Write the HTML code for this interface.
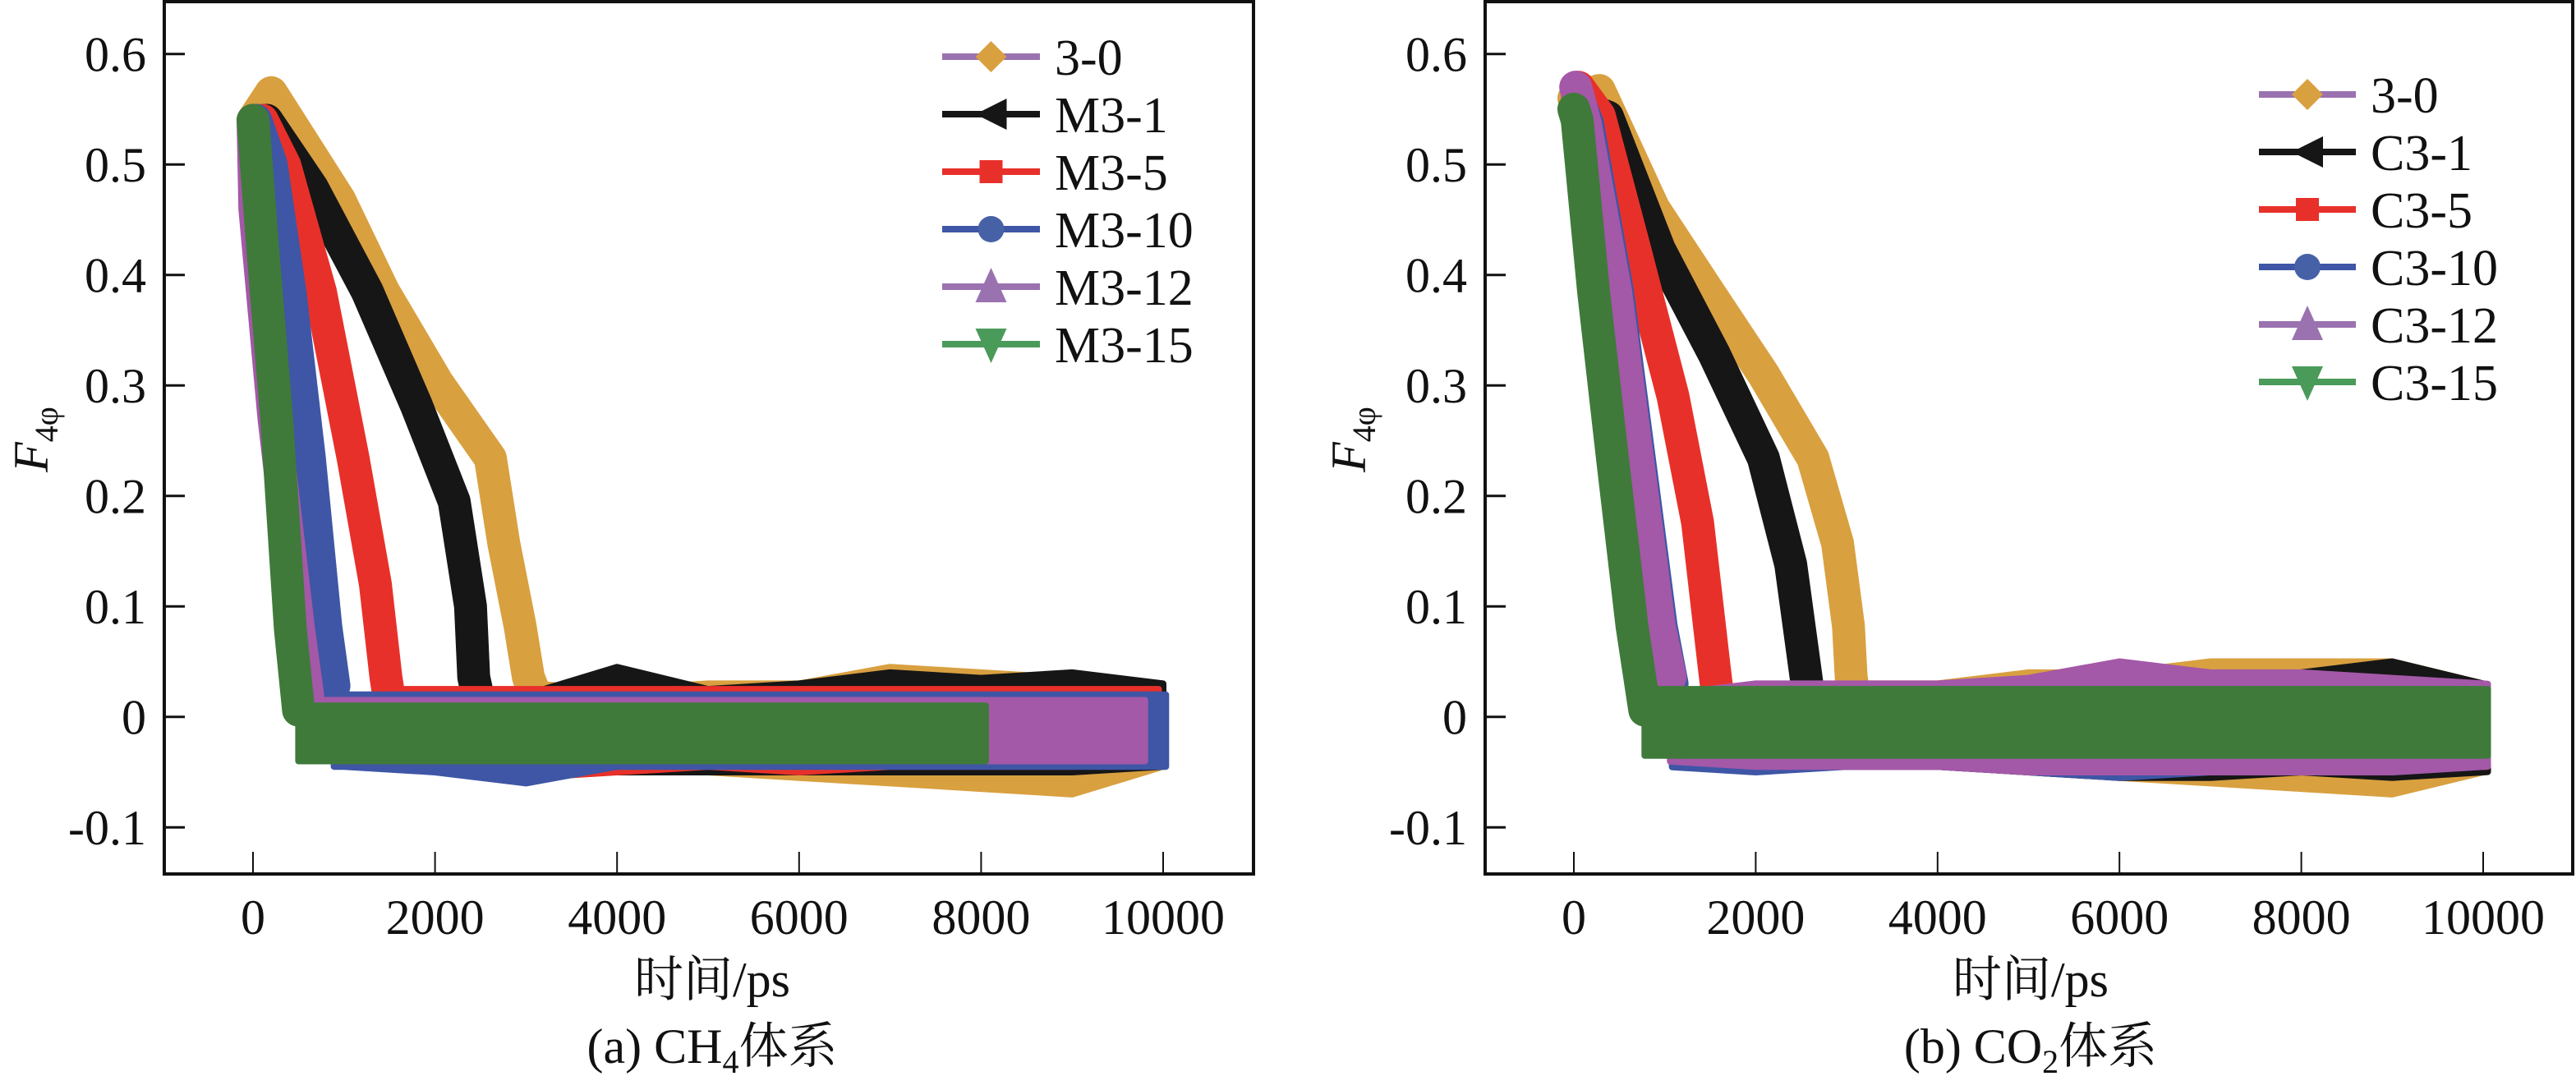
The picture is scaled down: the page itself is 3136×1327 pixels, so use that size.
<!DOCTYPE html>
<html><head><meta charset="utf-8">
<style>
html,body{margin:0;padding:0;background:#fff;}
svg{display:block;font-family:"Liberation Serif","Noto Serif CJK SC",serif;}
svg text{font-family:"Liberation Serif","Noto Serif CJK SC",serif !important;fill:#111;}
</style></head>
<body>
<svg id="chart" width="3136" height="1327" viewBox="0 0 3136 1327" xmlns="http://www.w3.org/2000/svg" font-family="Liberation Serif, Noto Serif CJK SC, serif"></svg>
<script>
// ---------- shared ticks ----------
const xTicks=[0,2000,4000,6000,8000,10000];
const yTicks=[0.6,0.5,0.4,0.3,0.2,0.1,0,-0.1];
const yTickLabels=["0.6","0.5","0.4","0.3","0.2","0.1","0","-0.1"];
const gridT=[0,1000,2000,3000,4000,5000,6000,7000,8000,9000,10000];

// ---------- panel A (CH4) ----------
const aNames=["3-0","M3-1","M3-5","M3-10","M3-12","M3-15"];
const aO_T=[0,200,950,1435,2030,2608,2755,2935,3025,3100];
const aO_Y=[0.54,0.565,0.468,0.385,0.302,0.234,0.157,0.082,0.036,0.02];
const aK_T=[150,650,1255,1795,2210,2390,2425,2480];
const aK_Y=[0.54,0.479,0.385,0.282,0.195,0.10,0.036,0.015];
const aR_T=[100,350,740,1100,1345,1460,1490];
const aR_Y=[0.54,0.499,0.385,0.234,0.12,0.036,0.02];
const aB_T=[30,200,406,620,800,890];
const aB_Y=[0.54,0.50,0.385,0.234,0.082,0.028];
const aP_T=[0,20,230,500,600];
const aP_Y=[0.54,0.46,0.27,0.08,0.02];
const aG_T=[0,110,260,410,500];
const aG_Y=[0.54,0.42,0.27,0.08,0.006];
const aO_Hi=[.03,.03,.03,.03,.025,.03,.03,.045,.04,.035,.02];
const aO_Lo=[-.03,-.03,-.03,-.035,-.045,-.05,-.055,-.06,-.065,-.07,-.045];
const aK_Hi=[.02,.02,.02,.02,.045,.025,.03,.04,.035,.04,.03];
const aK_Lo=[-.03,-.03,-.03,-.035,-.05,-.05,-.05,-.05,-.05,-.05,-.045];
const aR_Hi=[.025,.025,.025,.025,.025,.025,.025,.025,.025,.025,.025];
const aR_Lo=[-.04,-.04,-.045,-.055,-.05,-.045,-.05,-.045,-.045,-.045,-.04];
const aB_Hi=[.02,.02,.02,.02,.02,.02,.02,.02,.02,.02,.02];
const aB_Lo=[-.045,-.045,-.05,-.06,-.045,-.045,-.045,-.045,-.045,-.045,-.045];
const aP_Hi=[.015,.015,.015,.015,.015,.015,.015,.015,.015,.015,.015];
const aP_Lo=[-.04,-.04,-.04,-.04,-.04,-.04,-.04,-.04,-.04,-.04,-.04];
const aG_Hi=[.01,.01,.01,.01,.01,.01,.01,.01,.01,.01,.01];
const aG_Lo=[-.04,-.04,-.04,-.04,-.04,-.04,-.04,-.04,-.04,-.04,-.04];
const aEnd=[9950,10000,9950,10030,9800,8050];

// ---------- panel B (CO2) ----------
const bNames=["3-0","C3-1","C3-5","C3-10","C3-12","C3-15"];
const bO_T=[0,280,880,1480,2085,2630,2900,3020,3050,3080];
const bO_Y=[0.56,0.567,0.46,0.385,0.31,0.234,0.157,0.082,0.036,0.02];
const bK_T=[150,370,940,1545,2085,2385,2540,2580];
const bK_Y=[0.55,0.543,0.423,0.328,0.234,0.138,0.044,0.02];
const bR_T=[50,280,670,1090,1360,1545,1580];
const bR_Y=[0.57,0.544,0.423,0.29,0.176,0.044,0.02];
const bB_T=[40,150,480,720,960,1080];
const bB_Y=[0.56,0.537,0.385,0.234,0.082,0.03];
const bP_T=[20,126,460,700,940,1060];
const bP_Y=[0.57,0.537,0.385,0.234,0.082,0.036];
const bG_T=[0,36,217,425,640,780];
const bG_Y=[0.55,0.54,0.385,0.234,0.082,0.006];
const bO_Hi=[.03,.03,.03,.03,.03,.04,.04,.05,.05,.05,.03];
const bO_Lo=[-.035,-.035,-.035,-.035,-.045,-.05,-.055,-.06,-.065,-.07,-.05];
const bK_Hi=[.02,.02,.02,.02,.02,.03,.035,.035,.04,.05,.03];
const bK_Lo=[-.03,-.03,-.04,-.04,-.045,-.05,-.055,-.055,-.05,-.055,-.05];
const bR_Hi=[.025,.025,.025,.025,.025,.025,.025,.025,.025,.025,.025];
const bR_Lo=[-.045,-.045,-.045,-.045,-.045,-.045,-.045,-.045,-.045,-.045,-.045];
const bB_Hi=[.02,.02,.02,.02,.02,.02,.02,.02,.02,.02,.02];
const bB_Lo=[-.045,-.045,-.05,-.045,-.045,-.05,-.055,-.05,-.05,-.05,-.045];
const bP_Hi=[.02,.02,.03,.03,.03,.035,.05,.04,.04,.035,.03];
const bP_Lo=[-.04,-.04,-.045,-.045,-.045,-.05,-.05,-.05,-.05,-.05,-.045];
const bG_Hi=[.025,.025,.025,.025,.025,.025,.025,.025,.025,.025,.025];
const bG_Lo=[-.035,-.035,-.035,-.035,-.035,-.035,-.035,-.035,-.035,-.035,-.035];
const bEnd=[10050,10050,10050,10050,10050,10050];

const colors=["#d9a040","#161616","#e8302a","#3e56a5","#a458a8","#3f7a3a"];
const legLine=["#9a72b0","#161616","#e8302a","#3e56a5","#9a72b0","#4a9a5a"];
const legMark=["#d9a040","#161616","#e8302a","#4661a6","#9a72b0","#4a9a5a"];
const markers=["diamond","left","square","circle","up","down"];
const FONT='"Liberation Serif","Noto Serif CJK SC",serif';

const NS="http://www.w3.org/2000/svg";
const svg=document.getElementById('chart');
function mk(tag,attrs,parent){const e=document.createElementNS(NS,tag);for(const k in attrs)e.setAttribute(k,attrs[k]);if(tag==='text'){e.setAttribute('font-family','Liberation Serif, Noto Serif CJK SC, serif');e.style.fontFamily=FONT;}(parent||svg).appendChild(e);return e;}
function interp(arr,t){const i=Math.min(Math.max(Math.floor(t/1000),0),9);const f=(t-gridT[i])/1000;return arr[i]+(arr[i+1]-arr[i])*f;}

function panel(P){
  const g=mk('g',{});
  
  
  const X=t=>P.x0+(t-0)*(P.x1-P.x0)/10000;
  const Y=v=>P.y0+(0-v)*(P.y0-P.y06)/0.6;
  const plot=mk('g',{},g);
  
  
  P.series.forEach((s,i)=>{
    const sg=mk('g',{},plot);
    
    
    const start=s.T[s.T.length-1], end=P.end[i];
    let top=[[start,interp(s.Hi,start)]],bot=[[start,interp(s.Lo,start)]];
    gridT.forEach((t,k)=>{if(t>start&&t<end){top.push([t,s.Hi[k]]);bot.push([t,s.Lo[k]]);}});
    top.push([end,interp(s.Hi,end)]);bot.push([end,interp(s.Lo,end)]);
    const pts=top.concat(bot.reverse()).map(p=>X(p[0]).toFixed(1)+','+Y(p[1]).toFixed(1)).join(' ');
    const band=mk('polygon',{points:pts,fill:colors[i],stroke:colors[i],'stroke-width':8,'stroke-linejoin':'round'},sg);
    
    
    const lp=s.T.map((t,k)=>X(t).toFixed(1)+','+Y(s.Y[k]).toFixed(1)).join(' ');
    const line=mk('polyline',{points:lp,fill:'none',stroke:colors[i],'stroke-width':40,'stroke-linejoin':'round','stroke-linecap':'round'},sg);
    
    
  });
  const frame=mk('rect',{x:P.x0L,y:2,width:P.xR-P.x0L,height:P.yB-2,fill:'none',stroke:'#111','stroke-width':4},g);
  
  
  const yax=mk('g',{},g);
  
  
  yTicks.forEach((v,k)=>{
    const tk=mk('line',{x1:P.x0L,x2:P.x0L+25,y1:Y(v),y2:Y(v),stroke:'#111','stroke-width':3},yax);
    
    
    const tl=mk('text',{x:P.x0L-22,y:Y(v)+21,'text-anchor':'end','font-size':60},yax);
    
    
    tl.textContent=yTickLabels[k];
  });
  const xax=mk('g',{},g);
  
  
  xTicks.forEach(t=>{
    const tk=mk('line',{x1:X(t),x2:X(t),y1:P.yB,y2:P.yB-27,stroke:'#111','stroke-width':2},xax);
    
    
    const tl=mk('text',{x:X(t),y:1137,'text-anchor':'middle','font-size':60},xax);
    
    
    tl.textContent=String(t);
  });
  const xl=mk('text',{x:P.capX,y:1213,'text-anchor':'middle','font-size':60},g);
  
  
  xl.textContent='时间/ps';
  const yl=mk('text',{x:0,y:0,'text-anchor':'middle','font-size':60,transform:'translate('+(P.ylx)+',535) rotate(-90)'},g);
  
  
  yl.innerHTML='<tspan font-style="italic">F</tspan><tspan font-size="40" dy="12">4φ</tspan>';
  const cap=mk('text',{x:P.capX,y:1294,'text-anchor':'middle','font-size':60},g);
  
  
  cap.innerHTML=P.caption;
  const lg=mk('g',{},g);
  
  
  P.names.forEach((n,i)=>{
    const y=P.legY+i*70, cx=(P.legX0+P.legX1)/2;
    const e=mk('g',{},lg);
    
    
    mk('line',{x1:P.legX0,x2:P.legX1,y1:y,y2:y,stroke:legLine[i],'stroke-width':8},e);
    const c=legMark[i],r=19;let m;
    if(markers[i]=='diamond')m=mk('polygon',{points:`${cx},${y-r} ${cx+r},${y} ${cx},${y+r} ${cx-r},${y}`,fill:c},e);
    else if(markers[i]=='left')m=mk('polygon',{points:`${cx-r},${y} ${cx+r},${y-r} ${cx+r},${y+r}`,fill:c},e);
    else if(markers[i]=='square')m=mk('rect',{x:cx-14,y:y-14,width:28,height:28,fill:c},e);
    else if(markers[i]=='circle')m=mk('ellipse',{cx:cx,cy:y,rx:16,ry:16,fill:c},e);
    else if(markers[i]=='up')m=mk('polygon',{points:`${cx},${y-r-4} ${cx+r},${y+r} ${cx-r},${y+r}`,fill:c},e);
    else m=mk('polygon',{points:`${cx-r},${y-r} ${cx+r},${y-r} ${cx},${y+r+4}`,fill:c},e);
    
    
    const t=mk('text',{x:P.legX1+18,y:y+22,'font-size':62},e);
    
    
    t.textContent=n;
  });
}

panel({id:'ch4',names:aNames,end:aEnd,x0:308,x1:1416,x0L:200,xR:1526,y0:872.7,y06:65.7,yB:1064,
  capX:867,ylx:58,legX0:1147,legX1:1266,legY:69,
  caption:'(a) CH<tspan font-size="40" dy="12">4</tspan><tspan dy="-12">体系</tspan>',
  series:[{T:aO_T,Y:aO_Y,Hi:aO_Hi,Lo:aO_Lo},{T:aK_T,Y:aK_Y,Hi:aK_Hi,Lo:aK_Lo},{T:aR_T,Y:aR_Y,Hi:aR_Hi,Lo:aR_Lo},
          {T:aB_T,Y:aB_Y,Hi:aB_Hi,Lo:aB_Lo},{T:aP_T,Y:aP_Y,Hi:aP_Hi,Lo:aP_Lo},{T:aG_T,Y:aG_Y,Hi:aG_Hi,Lo:aG_Lo}]});
panel({id:'co2',names:bNames,end:bEnd,x0:1916,x1:3023,x0L:1808,xR:3132,y0:872.7,y06:65.7,yB:1064,
  capX:2472,ylx:1662,legX0:2750,legX1:2868,legY:115,
  caption:'(b) CO<tspan font-size="40" dy="12">2</tspan><tspan dy="-12">体系</tspan>',
  series:[{T:bO_T,Y:bO_Y,Hi:bO_Hi,Lo:bO_Lo},{T:bK_T,Y:bK_Y,Hi:bK_Hi,Lo:bK_Lo},{T:bR_T,Y:bR_Y,Hi:bR_Hi,Lo:bR_Lo},
          {T:bB_T,Y:bB_Y,Hi:bB_Hi,Lo:bB_Lo},{T:bP_T,Y:bP_Y,Hi:bP_Hi,Lo:bP_Lo},{T:bG_T,Y:bG_Y,Hi:bG_Hi,Lo:bG_Lo}]});
</script>
</body></html>
